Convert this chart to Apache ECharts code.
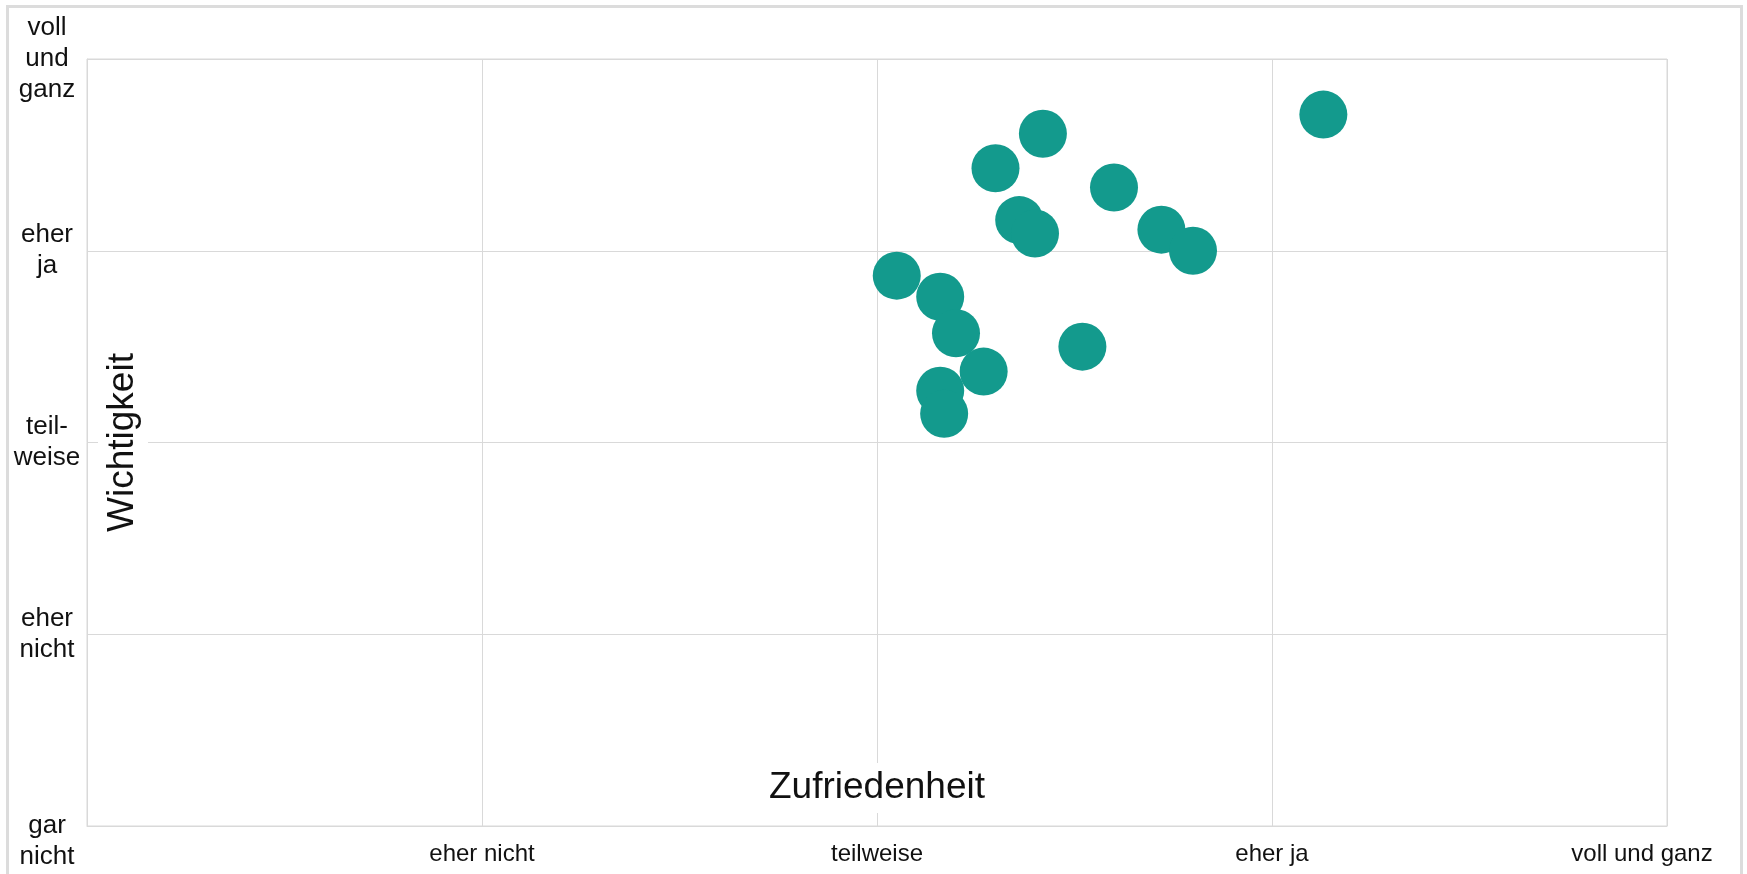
<!DOCTYPE html>
<html>
<head>
<meta charset="utf-8">
<script src="https://cdn.jsdelivr.net/npm/echarts@6/dist/echarts.min.js"></script>
<style>
  html, body { margin: 0; padding: 0; background: #fff; overflow: hidden; }
  #chart { position: absolute; left: 0; top: 0; width: 1747px; height: 874px; }
  #frame { position: absolute; left: 6px; top: 5px; width: 1737px; height: 900px;
           border: 3px solid #dcdcdc; box-sizing: border-box; pointer-events: none; }
</style>
</head>
<body>
<div id="chart"></div>
<div id="frame"></div>
<script>
// Achsenbeschriftungen
const xLabels = ['', 'eher nicht', 'teilweise', 'eher ja', 'voll und ganz'];
const yLabels = ['\ngar\nnicht', 'eher\nnicht', 'teil-\nweise', 'eher\nja', 'voll\nund\nganz'];

// Mittelwerte je Item
const zufriedenheit = [2.42, 2.30, 2.60, 2.36, 2.40, 2.72, 2.80, 2.05, 2.16, 2.20, 2.27, 2.52, 2.16, 2.17, 3.13];
const wichtigkeit   = [3.61, 3.43, 3.33, 3.16, 3.09, 3.11, 3.00, 2.87, 2.76, 2.57, 2.37, 2.50, 2.27, 2.15, 3.71];

const points = zufriedenheit.map((x, i) => [x, wichtigkeit[i]]);

const font = 'Liberation Sans, Arial, sans-serif';
const gridColor = '#d9d9d9';

const chart = echarts.init(document.getElementById('chart'));
chart.setOption({
    animation: false,
    grid: {
        left: 87, top: 59, right: 80, bottom: 48,
        show: true, borderColor: gridColor, borderWidth: 1
    },
    xAxis: {
        type: 'value', min: 0, max: 4, interval: 1,
        name: 'Zufriedenheit', nameLocation: 'middle', nameGap: -38,
        nameTextStyle: {
            fontFamily: font, fontSize: 37, color: '#111',
            backgroundColor: '#fff', lineHeight: 50, verticalAlign: 'middle'
        },
        axisLine: { lineStyle: { color: gridColor } },
        axisTick: { show: false },
        splitLine: { lineStyle: { color: gridColor } },
        axisLabel: {
            margin: 16, fontFamily: font, fontSize: 24, color: '#111',
            formatter: (v, i) => i === 4 ? '{r|' + xLabels[4] + '}' : xLabels[Math.round(v)],
            rich: { r: { fontFamily: font, fontSize: 24, color: '#111', padding: [0, 50, 0, 0] } }
        }
    },
    yAxis: {
        type: 'value', min: 0, max: 4, interval: 1,
        name: 'Wichtigkeit', nameLocation: 'middle', nameGap: -36,
        nameTextStyle: {
            fontFamily: font, fontSize: 37, color: '#111',
            backgroundColor: '#fff', lineHeight: 50, verticalAlign: 'middle'
        },
        axisLine: { lineStyle: { color: gridColor } },
        axisTick: { show: false },
        splitLine: { lineStyle: { color: gridColor } },
        axisLabel: {
            margin: 40, align: 'center', fontFamily: font, fontSize: 26,
            lineHeight: 31, color: '#111',
            formatter: v => yLabels[Math.round(v)]
        }
    },
    series: [{
        type: 'scatter',
        data: points,
        symbolSize: 48,
        itemStyle: { color: '#139a8d', opacity: 1 }
    }]
});
</script>
</body>
</html>
